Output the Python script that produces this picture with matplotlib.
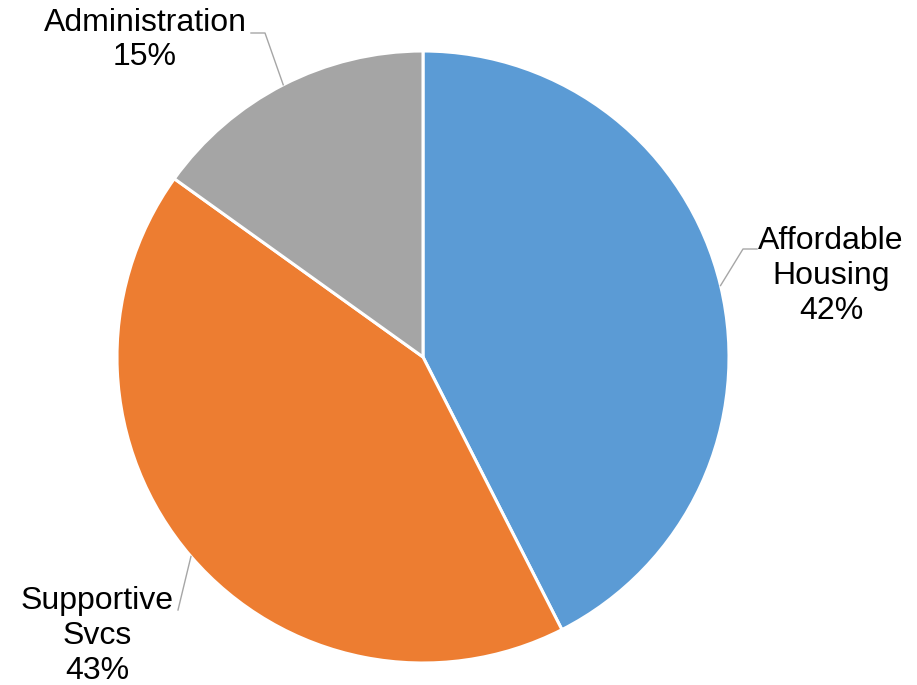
import numpy as np
import matplotlib.pyplot as plt

plt.rcParams['font.family'] = ['Liberation Sans', 'DejaVu Sans']

# Slice data, clockwise from 12 o'clock
labels = ['Affordable\nHousing', 'Supportive\nSvcs', 'Administration']
shares = [42.5, 42.4, 15.1]
pct_text = ['42%', '43%', '15%']     # as printed on the chart
colors = ['#5B9BD5', '#ED7D31', '#A5A5A5']

# Canvas in pixel units, y pointing up
W, H = 917, 685
cx, cy, r = 423, H - 357, 306

fig = plt.figure(figsize=(W / 100, H / 100), dpi=100)
ax = fig.add_axes([0, 0, 1, 1])

wedges, _ = ax.pie(shares, colors=colors, startangle=90, counterclock=False,
                   center=(cx, cy), radius=r, frame=True,
                   wedgeprops=dict(edgecolor='white', linewidth=2.2))
ax.set_xlim(0, W)
ax.set_ylim(0, H)
ax.set_aspect('equal')
ax.axis('off')

# label text centres and leader elbows (pixel offsets)
text_pos = [(831, H - 276), (97, H - 636), (145, H - 40)]
elbows = [[(743, H - 249), (757, H - 249)],
          None,
          [(265, H - 33), (251, H - 33)]]
ends = [None, (178, H - 610), None]

for w, lab, pt, tp, el, en in zip(wedges, labels, pct_text, text_pos, elbows, ends):
    mid = np.deg2rad((w.theta1 + w.theta2) / 2)
    x0, y0 = cx + r * np.cos(mid), cy + r * np.sin(mid)
    if el is not None:
        xs = [x0] + [p[0] for p in el]
        ys = [y0] + [p[1] for p in el]
    else:
        xs = [x0, en[0]]
        ys = [y0, en[1]]
    ax.plot(xs, ys, color='#A6A6A6', linewidth=1.0)
    ax.text(tp[0], tp[1], f'{lab}\n{pt}', ha='center', va='center',
            fontsize=23, color='black', linespacing=1.2)

fig.savefig('out.png', dpi=100)
